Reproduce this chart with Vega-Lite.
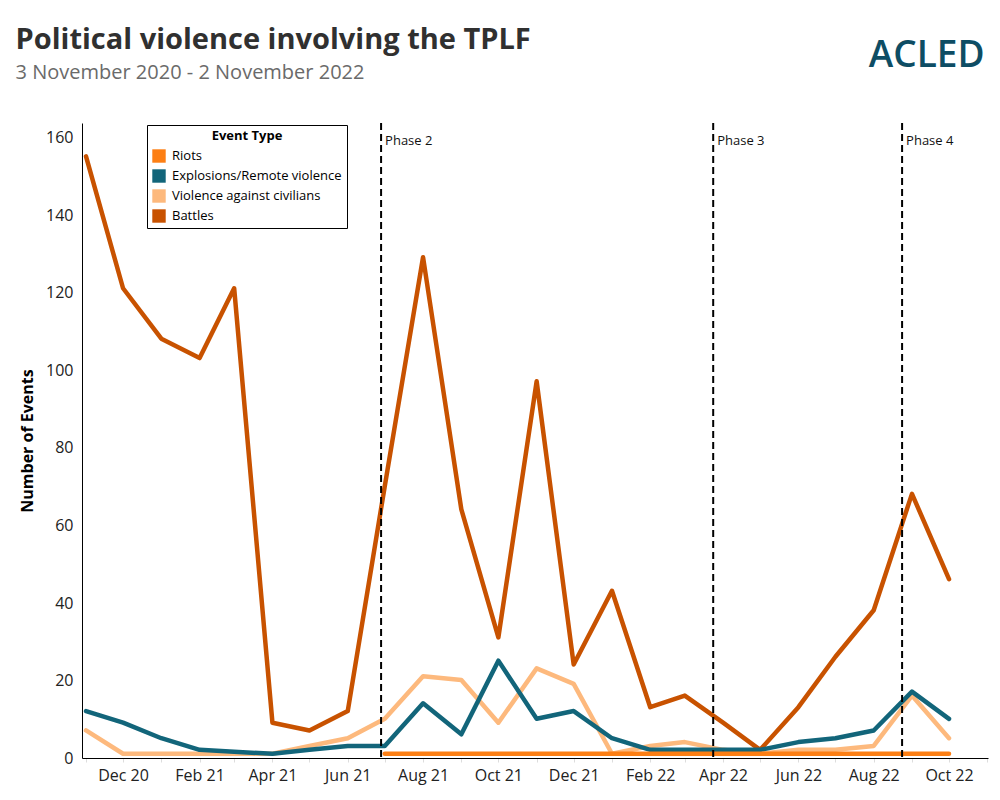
{
  "$schema": "https://vega.github.io/schema/vega-lite/v6.json",
  "width": 906,
  "height": 635,
  "autosize": {"type": "none"},
  "padding": {"left": 82, "top": 123, "right": 12, "bottom": 42},
  "background": "white",
  "config": {
    "font": "Open Sans",
    "view": {"stroke": null}
  },
  "title": {
    "text": "Political violence involving the TPLF",
    "subtitle": "3 November 2020 - 2 November 2022",
    "anchor": "start",
    "frame": "bounds",
    "dx": -4,
    "offset": -46.5,
    "font": "Open Sans",
    "fontSize": 29,
    "fontWeight": "bold",
    "color": "#303030",
    "subtitleFont": "Open Sans",
    "subtitleFontSize": 20,
    "subtitleColor": "#6a6a6a",
    "subtitlePadding": 8
  },
  "layer": [
    {
      "data": {
        "values": [
          {"month": "2020-11-01", "type": "Violence against civilians", "n": 6},
          {"month": "2020-12-01", "type": "Violence against civilians", "n": 0},
          {"month": "2021-01-01", "type": "Violence against civilians", "n": 0},
          {"month": "2021-02-01", "type": "Violence against civilians", "n": 0},
          {"month": "2021-03-01", "type": "Violence against civilians", "n": 0},
          {"month": "2021-04-01", "type": "Violence against civilians", "n": 0},
          {"month": "2021-05-01", "type": "Violence against civilians", "n": 2},
          {"month": "2021-06-01", "type": "Violence against civilians", "n": 4},
          {"month": "2021-07-01", "type": "Violence against civilians", "n": 9},
          {"month": "2021-08-01", "type": "Violence against civilians", "n": 20},
          {"month": "2021-09-01", "type": "Violence against civilians", "n": 19},
          {"month": "2021-10-01", "type": "Violence against civilians", "n": 8},
          {"month": "2021-11-01", "type": "Violence against civilians", "n": 22},
          {"month": "2021-12-01", "type": "Violence against civilians", "n": 18},
          {"month": "2022-01-01", "type": "Violence against civilians", "n": 0},
          {"month": "2022-02-01", "type": "Violence against civilians", "n": 2},
          {"month": "2022-03-01", "type": "Violence against civilians", "n": 3},
          {"month": "2022-04-01", "type": "Violence against civilians", "n": 1},
          {"month": "2022-05-01", "type": "Violence against civilians", "n": 0},
          {"month": "2022-06-01", "type": "Violence against civilians", "n": 1},
          {"month": "2022-07-01", "type": "Violence against civilians", "n": 1},
          {"month": "2022-08-01", "type": "Violence against civilians", "n": 2},
          {"month": "2022-09-01", "type": "Violence against civilians", "n": 15},
          {"month": "2022-10-01", "type": "Violence against civilians", "n": 4},
          {"month": "2020-11-01", "type": "Battles", "n": 154},
          {"month": "2020-12-01", "type": "Battles", "n": 120},
          {"month": "2021-01-01", "type": "Battles", "n": 107},
          {"month": "2021-02-01", "type": "Battles", "n": 102},
          {"month": "2021-03-01", "type": "Battles", "n": 120},
          {"month": "2021-04-01", "type": "Battles", "n": 8},
          {"month": "2021-05-01", "type": "Battles", "n": 6},
          {"month": "2021-06-01", "type": "Battles", "n": 11},
          {"month": "2021-07-01", "type": "Battles", "n": 69},
          {"month": "2021-08-01", "type": "Battles", "n": 128},
          {"month": "2021-09-01", "type": "Battles", "n": 63},
          {"month": "2021-10-01", "type": "Battles", "n": 30},
          {"month": "2021-11-01", "type": "Battles", "n": 96},
          {"month": "2021-12-01", "type": "Battles", "n": 23},
          {"month": "2022-01-01", "type": "Battles", "n": 42},
          {"month": "2022-02-01", "type": "Battles", "n": 12},
          {"month": "2022-03-01", "type": "Battles", "n": 15},
          {"month": "2022-04-01", "type": "Battles", "n": 8},
          {"month": "2022-05-01", "type": "Battles", "n": 1},
          {"month": "2022-06-01", "type": "Battles", "n": 12},
          {"month": "2022-07-01", "type": "Battles", "n": 25},
          {"month": "2022-08-01", "type": "Battles", "n": 37},
          {"month": "2022-09-01", "type": "Battles", "n": 67},
          {"month": "2022-10-01", "type": "Battles", "n": 45},
          {"month": "2020-11-01", "type": "Explosions/Remote violence", "n": 11},
          {"month": "2020-12-01", "type": "Explosions/Remote violence", "n": 8},
          {"month": "2021-01-01", "type": "Explosions/Remote violence", "n": 4},
          {"month": "2021-02-01", "type": "Explosions/Remote violence", "n": 1},
          {"month": "2021-03-01", "type": "Explosions/Remote violence", "n": 0.5},
          {"month": "2021-04-01", "type": "Explosions/Remote violence", "n": 0},
          {"month": "2021-05-01", "type": "Explosions/Remote violence", "n": 1},
          {"month": "2021-06-01", "type": "Explosions/Remote violence", "n": 2},
          {"month": "2021-07-01", "type": "Explosions/Remote violence", "n": 2},
          {"month": "2021-08-01", "type": "Explosions/Remote violence", "n": 13},
          {"month": "2021-09-01", "type": "Explosions/Remote violence", "n": 5},
          {"month": "2021-10-01", "type": "Explosions/Remote violence", "n": 24},
          {"month": "2021-11-01", "type": "Explosions/Remote violence", "n": 9},
          {"month": "2021-12-01", "type": "Explosions/Remote violence", "n": 11},
          {"month": "2022-01-01", "type": "Explosions/Remote violence", "n": 4},
          {"month": "2022-02-01", "type": "Explosions/Remote violence", "n": 1},
          {"month": "2022-03-01", "type": "Explosions/Remote violence", "n": 1},
          {"month": "2022-04-01", "type": "Explosions/Remote violence", "n": 1},
          {"month": "2022-05-01", "type": "Explosions/Remote violence", "n": 1},
          {"month": "2022-06-01", "type": "Explosions/Remote violence", "n": 3},
          {"month": "2022-07-01", "type": "Explosions/Remote violence", "n": 4},
          {"month": "2022-08-01", "type": "Explosions/Remote violence", "n": 6},
          {"month": "2022-09-01", "type": "Explosions/Remote violence", "n": 16},
          {"month": "2022-10-01", "type": "Explosions/Remote violence", "n": 9},
          {"month": "2021-07-01", "type": "Riots", "n": 0},
          {"month": "2021-08-01", "type": "Riots", "n": 0},
          {"month": "2021-09-01", "type": "Riots", "n": 0},
          {"month": "2021-10-01", "type": "Riots", "n": 0},
          {"month": "2021-11-01", "type": "Riots", "n": 0},
          {"month": "2021-12-01", "type": "Riots", "n": 0},
          {"month": "2022-01-01", "type": "Riots", "n": 0},
          {"month": "2022-02-01", "type": "Riots", "n": 0},
          {"month": "2022-03-01", "type": "Riots", "n": 0},
          {"month": "2022-04-01", "type": "Riots", "n": 0},
          {"month": "2022-05-01", "type": "Riots", "n": 0},
          {"month": "2022-06-01", "type": "Riots", "n": 0},
          {"month": "2022-07-01", "type": "Riots", "n": 0},
          {"month": "2022-08-01", "type": "Riots", "n": 0},
          {"month": "2022-09-01", "type": "Riots", "n": 0},
          {"month": "2022-10-01", "type": "Riots", "n": 0}
        ]
      },
      "mark": {"type": "line", "strokeWidth": 4.5, "strokeJoin": "round", "strokeCap": "round"},
      "encoding": {
        "x": {
          "field": "month",
          "type": "temporal",
          "scale": {
            "type": "utc",
            "domain": [
              {"year": 2020, "month": 10, "date": 28, "hours": 18, "utc": true},
              {"year": 2022, "month": 11, "date": 1, "hours": 14, "utc": true}
            ]
          },
          "axis": {
            "title": null,
            "grid": false,
            "format": "%b %y",
            "tickCount": {"interval": "month", "step": 1},
            "labelExpr": "utcmonth(datum.value) % 2 == 1 ? datum.label : ''",
            "labelFontSize": 16,
            "labelColor": "#222222",
            "labelPadding": 5,
            "labelFlush": false,
            "labelOverlap": false,
            "tickColor": "#dddddd",
            "tickSize": 4,
            "domainColor": "black",
            "domainWidth": 1
          }
        },
        "y": {
          "field": "n",
          "type": "quantitative",
          "scale": {"domain": [-1.1, 162.6], "nice": false, "zero": false},
          "axis": {
            "title": "Number of Events",
            "titleFontSize": 16,
            "titleFontWeight": "bold",
            "titleColor": "black",
            "titlePadding": 10,
            "values": [0, 20, 40, 60, 80, 100, 120, 140, 160],
            "grid": false,
            "ticks": false,
            "labelFontSize": 16,
            "labelColor": "#222222",
            "labelPadding": 9,
            "labelOffset": 4.5,
            "domainColor": "black",
            "domainWidth": 1
          }
        },
        "color": {
          "field": "type",
          "type": "nominal",
          "sort": null,
          "scale": {
            "domain": ["Riots", "Explosions/Remote violence", "Violence against civilians", "Battles"],
            "range": ["#fd7f14", "#12657a", "#fdb97d", "#c85200"]
          },
          "legend": {
            "title": "Event Type",
            "orient": "none",
            "legendX": 65,
            "legendY": 2,
            "padding": 5,
            "strokeColor": "black",
            "fillColor": "white",
            "titleFontSize": 13,
            "titleFontWeight": "bold",
            "titleColor": "black",
            "titleAnchor": "middle",
            "titlePadding": 6,
            "labelFontSize": 13,
            "labelColor": "black",
            "labelOffset": 6,
            "labelLimit": 400,
            "symbolType": "square",
            "symbolSize": 180,
            "rowPadding": 6,
            "symbolStrokeWidth": 0,
            "encode": {
              "symbols": {
                "update": {
                  "fill": {"scale": "color", "field": "value"},
                  "strokeWidth": {"value": 0},
                  "opacity": {"value": 1}
                }
              }
            }
          }
        }
      }
    },
    {
      "data": {
        "values": [
          {"date": "2021-06-28", "label": "Phase 2"},
          {"date": "2022-03-24", "label": "Phase 3"},
          {"date": "2022-08-24", "label": "Phase 4"}
        ]
      },
      "mark": {"type": "rule", "color": "black", "strokeWidth": 2, "strokeDash": [7, 4]},
      "encoding": {
        "x": {"field": "date", "type": "temporal"}
      }
    },
    {
      "data": {
        "values": [
          {"date": "2021-06-28", "label": "Phase 2"},
          {"date": "2022-03-24", "label": "Phase 3"},
          {"date": "2022-08-24", "label": "Phase 4"}
        ]
      },
      "mark": {"type": "text", "align": "left", "baseline": "middle", "dx": 4, "fontSize": 13, "color": "#111111"},
      "encoding": {
        "x": {"field": "date", "type": "temporal"},
        "y": {"datum": 158},
        "text": {"field": "label"}
      }
    },
    {
      "data": {"values": [{"name": "ACLED"}]},
      "mark": {"type": "text", "align": "left", "baseline": "middle", "fontSize": 37, "fontWeight": 600, "color": "#0e4d64", "clip": false},
      "encoding": {
        "x": {"datum": {"year": 2022, "month": 7, "date": 28, "utc": true}},
        "y": {"datum": 180.0},
        "text": {"field": "name"}
      }
    }
  ]
}
